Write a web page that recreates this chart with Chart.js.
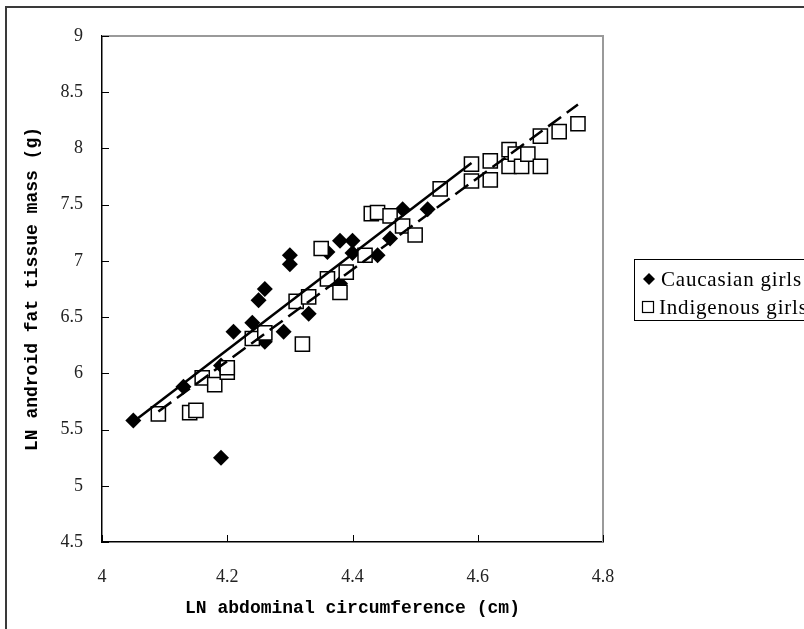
<!DOCTYPE html>
<html><head><meta charset="utf-8">
<script src="https://cdn.jsdelivr.net/npm/chart.js@4/dist/chart.umd.min.js"></script>
<style>html,body{margin:0;padding:0;background:#fff;} #wrap{width:804px;height:629px;position:relative;}</style>
</head><body><div id="wrap"><canvas id="c" width="804" height="629"></canvas></div>
<script>
// ---- data ----
const xTickValues = [4, 4.2, 4.4, 4.6, 4.8];
const yTickValues = [4.5, 5, 5.5, 6, 6.5, 7, 7.5, 8, 8.5, 9];
const seriesNames = ['Caucasian girls', 'Indigenous girls'];
const xTitle = 'LN abdominal circumference (cm)';
const yTitle = 'LN android fat tissue mass (g)';

const caucasianX = [4.05, 4.13, 4.19, 4.19, 4.21, 4.24, 4.25, 4.26, 4.26, 4.29, 4.30, 4.30, 4.33, 4.36, 4.38, 4.38, 4.40, 4.40, 4.44, 4.46, 4.48, 4.52];
const caucasianY = [5.58, 5.88, 6.07, 5.25, 6.37, 6.45, 6.65, 6.75, 6.28, 6.37, 7.05, 6.97, 6.53, 7.08, 7.18, 6.80, 7.18, 7.07, 7.05, 7.20, 7.46, 7.46];

const indigenousX = [4.09, 4.14, 4.15, 4.16, 4.18, 4.20, 4.20, 4.24, 4.26, 4.31, 4.32, 4.33, 4.35, 4.36, 4.38, 4.39, 4.42, 4.43, 4.44, 4.46, 4.48, 4.50, 4.54, 4.59, 4.59, 4.62, 4.62, 4.65, 4.65, 4.66, 4.67, 4.68, 4.70, 4.70, 4.73, 4.76];
const indigenousY = [5.64, 5.65, 5.67, 5.96, 5.90, 6.01, 6.05, 6.31, 6.36, 6.64, 6.26, 6.68, 7.11, 6.84, 6.72, 6.90, 7.05, 7.42, 7.43, 7.40, 7.31, 7.23, 7.64, 7.86, 7.71, 7.89, 7.72, 7.99, 7.84, 7.95, 7.84, 7.95, 8.11, 7.84, 8.15, 8.22];

// fitted trend lines (end points)
const caucasianTrendX = [4.05, 4.59];
const caucasianTrendY = [5.57, 7.87];
const indigenousTrendX = [4.09, 4.76];
const indigenousTrendY = [5.66, 8.39];

const pts = (xs, ys) => xs.map((x, i) => ({x: x, y: ys[i]}));

const decorPlugin = {
  id: 'decor',
  afterDraw(chart) {
    const ctx = chart.ctx;
    const a = chart.chartArea;
    const xs = chart.scales.x, ys = chart.scales.y;
    ctx.save();
    // outer frame (extends beyond the visible picture right & bottom)
    ctx.strokeStyle = '#3a3a3a';
    ctx.lineWidth = 2;
    ctx.beginPath();
    ctx.moveTo(6, 640); ctx.lineTo(6, 7); ctx.lineTo(810, 7);
    ctx.stroke();
    // plot area top & right border (gray)
    ctx.strokeStyle = '#9a9a9a';
    ctx.lineWidth = 2;
    ctx.beginPath();
    ctx.moveTo(a.left, a.top); ctx.lineTo(a.right, a.top); ctx.lineTo(a.right, a.bottom);
    ctx.stroke();
    // inward tick marks
    ctx.strokeStyle = '#000';
    ctx.lineWidth = 1;
    ctx.beginPath();
    xs.ticks.forEach(t => {
      const px = Math.round(xs.getPixelForValue(t.value)) + 0.5;
      ctx.moveTo(px, a.bottom); ctx.lineTo(px, a.bottom - 7);
    });
    ys.ticks.forEach(t => {
      const py = Math.round(ys.getPixelForValue(t.value)) + 0.5;
      ctx.moveTo(a.left, py); ctx.lineTo(a.left + 7, py);
    });
    ctx.stroke();
    // legend
    const lx = 634, ly = 259, lw = 200, lh = 61;
    ctx.fillStyle = '#fff';
    ctx.fillRect(lx, ly, lw, lh);
    ctx.strokeStyle = '#000';
    ctx.lineWidth = 1;
    ctx.strokeRect(lx + 0.5, ly + 0.5, lw, lh);
    const r1y = ly + 20, r2y = ly + 48;
    ctx.fillStyle = '#000';
    ctx.beginPath();
    ctx.moveTo(643, r1y); ctx.lineTo(649, r1y - 6); ctx.lineTo(655, r1y); ctx.lineTo(649, r1y + 6);
    ctx.closePath(); ctx.fill();
    ctx.lineWidth = 1.2;
    ctx.strokeRect(642.5, r2y - 5.5, 11, 11);
    ctx.fillStyle = '#000';
    ctx.font = '21px "Liberation Serif"';
    try { ctx.letterSpacing = '0.8px'; } catch (e) {}
    ctx.textBaseline = 'middle';
    ctx.textAlign = 'left';
    ctx.fillText(seriesNames[0], 661, r1y + 1);
    ctx.fillText(seriesNames[1], 659, r2y + 1);
    ctx.restore();
  }
};

new Chart(document.getElementById('c'), {
  type: 'scatter',
  data: {
    datasets: [
      {
        label: seriesNames[0] + ' trend',
        type: 'line',
        data: pts(caucasianTrendX, caucasianTrendY),
        borderColor: '#000', borderWidth: 2.5,
        pointRadius: 0, fill: false, showLine: true, tension: 0
      },
      {
        label: seriesNames[1] + ' trend',
        type: 'line',
        data: pts(indigenousTrendX, indigenousTrendY),
        borderColor: '#000', borderWidth: 2.5, borderDash: [16, 7],
        pointRadius: 0, fill: false, showLine: true, tension: 0
      },
      {
        label: seriesNames[1],
        data: pts(indigenousX, indigenousY),
        pointStyle: 'rect', pointRadius: 10,
        backgroundColor: '#fff', borderColor: '#000', borderWidth: 1.5
      },
      {
        label: seriesNames[0],
        data: pts(caucasianX, caucasianY),
        pointStyle: 'rectRot', pointRadius: 8,
        backgroundColor: '#000', borderColor: '#000', borderWidth: 0
      }
    ]
  },
  options: {
    responsive: false,
    animation: false,
    layout: { padding: { left: 0, top: 36, right: 201, bottom: 0 } },
    plugins: { legend: { display: false }, tooltip: { enabled: false } },
    scales: {
      x: {
        type: 'linear', min: 4, max: 4.8,
        afterBuildTicks: s => { s.ticks = xTickValues.map(v => ({value: v})); },
        afterFit: s => { s.height = 87; },
        grid: { display: false, drawTicks: false },
        border: { display: true, color: '#000', width: 1.5 },
        ticks: {
          padding: 24, color: '#222',
          font: { family: '"Liberation Serif"', size: 18 },
          callback: v => String(v)
        },
        title: {
          display: true, text: xTitle, color: '#000',
          font: { family: '"Liberation Mono"', size: 18, weight: 'bold' },
          padding: { top: 0, bottom: 10 }
        }
      },
      y: {
        type: 'linear', min: 4.5, max: 9,
        afterBuildTicks: s => { s.ticks = yTickValues.map(v => ({value: v})); },
        afterFit: s => { s.width = 102; },
        grid: { display: false, drawTicks: false },
        border: { display: true, color: '#000', width: 1.5 },
        ticks: {
          padding: 19, color: '#222',
          font: { family: '"Liberation Serif"', size: 18 },
          callback: v => String(v)
        },
        title: {
          display: true, text: yTitle, color: '#000',
          font: { family: '"Liberation Mono"', size: 18, weight: 'bold' },
          padding: { top: 22, bottom: 0 }
        }
      }
    }
  },
  plugins: [decorPlugin]
});
</script>
</body></html>
